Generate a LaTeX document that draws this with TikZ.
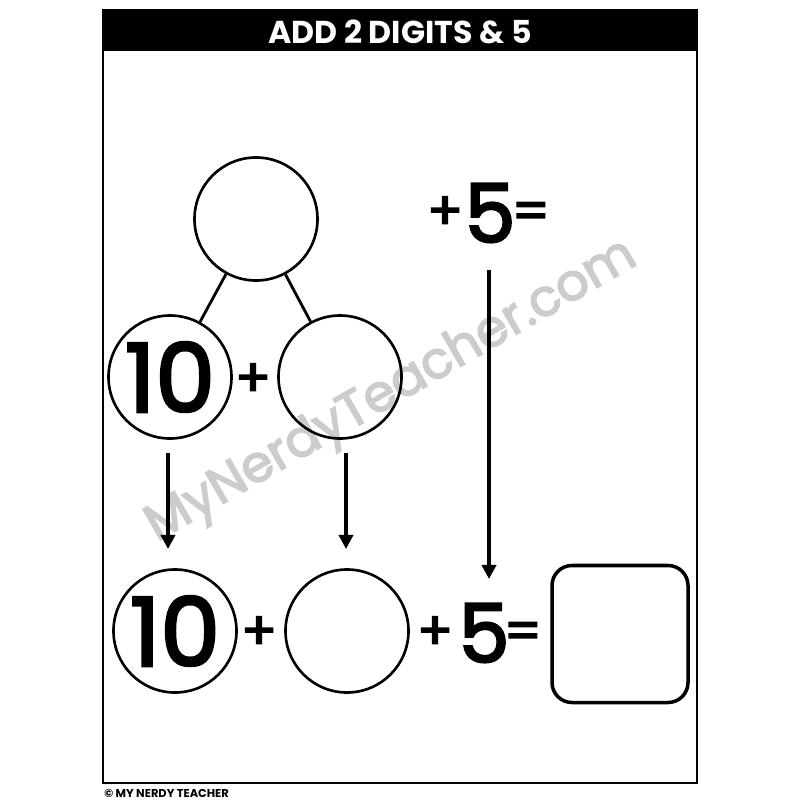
\documentclass[tikz,border=0pt]{standalone}
\usepackage{fontspec}
\setmainfont{Poppins}
\newfontfamily\midfont{Poppins}[FakeBold=3]
\usetikzlibrary{arrows.meta}

\begin{document}
\begin{tikzpicture}[x=0.02cm, y=-0.02cm,
    bond/.style={circle, draw, line width=1.5pt, minimum size=123*0.02cm, inner sep=0pt},
    link/.style={line width=1.6pt},
    down/.style={line width=2.2pt, -{Triangle[length=8pt, width=8pt]}},
    big/.style={font=\midfont\fontsize{54}{54}\selectfont},
    sign/.style={font=\midfont\fontsize{30}{30}\selectfont}]
    \useasboundingbox[fill=white] (0, 0) rectangle (800, 800);

    % frame and header bar
    \draw[line width=1.2pt] (103, 10) rectangle (697, 783);
    \fill[black] (103, 10) rectangle (697, 51);
    \node[text=white, font=\bfseries\fontsize{18}{18}\selectfont] (title) at (400, 32) {ADD 2 DIGITS \& 5};
    \node[anchor=west, font=\bfseries\fontsize{6.5}{6.5}\selectfont, inner sep=0pt] (foot) at (104, 793) {© MY NERDY TEACHER};

    % watermark
    \node[text=black!20, rotate=30, font=\midfont\fontsize{29}{29}\selectfont] (mark) at (392, 392) {MyNerdyTeacher.com};

    % number bond
    \node[bond] (whole) at (256, 219) {};
    \node[bond, big] (ten) at (170, 377) {10};
    \node[bond] (ones) at (340, 377) {};
    \node[sign] (plusA) at (253, 380) {+};
    \draw[link] (whole) -- (ten);
    \draw[link] (whole) -- (ones);

    % plus five on the right
    \node[sign] (plusB) at (445, 213) {+};
    \node[font=\midfont\fontsize{46}{46}\selectfont] (fiveA) at (490, 213) {5};
    \node[sign] (eqA) at (531, 216) {=};

    % bottom row
    \node[bond, big] (tenB) at (175, 631) {10};
    \node[sign] (plusC) at (259, 633) {+};
    \node[bond] (onesB) at (347, 631) {};
    \node[sign] (plusD) at (435, 633) {+};
    \node[font=\midfont\fontsize{46}{46}\selectfont] (fiveB) at (484, 633) {5};
    \node[sign] (eqB) at (523, 636) {=};
    \node[draw, line width=2pt, rounded corners=20*0.02cm, minimum width=136*0.02cm, minimum height=137*0.02cm] (sum) at (620, 634) {};

    % arrows
    \coordinate (a1) at (168, 453);
    \coordinate (a2) at (168, 549);
    \coordinate (b1) at (346, 453);
    \coordinate (b2) at (346, 549);
    \coordinate (c1) at (489, 270);
    \coordinate (c2) at (489, 579);
    \draw[down] (a1) -- (a2);
    \draw[down] (b1) -- (b2);
    \draw[down] (c1) -- (c2);
\end{tikzpicture}
\end{document}
